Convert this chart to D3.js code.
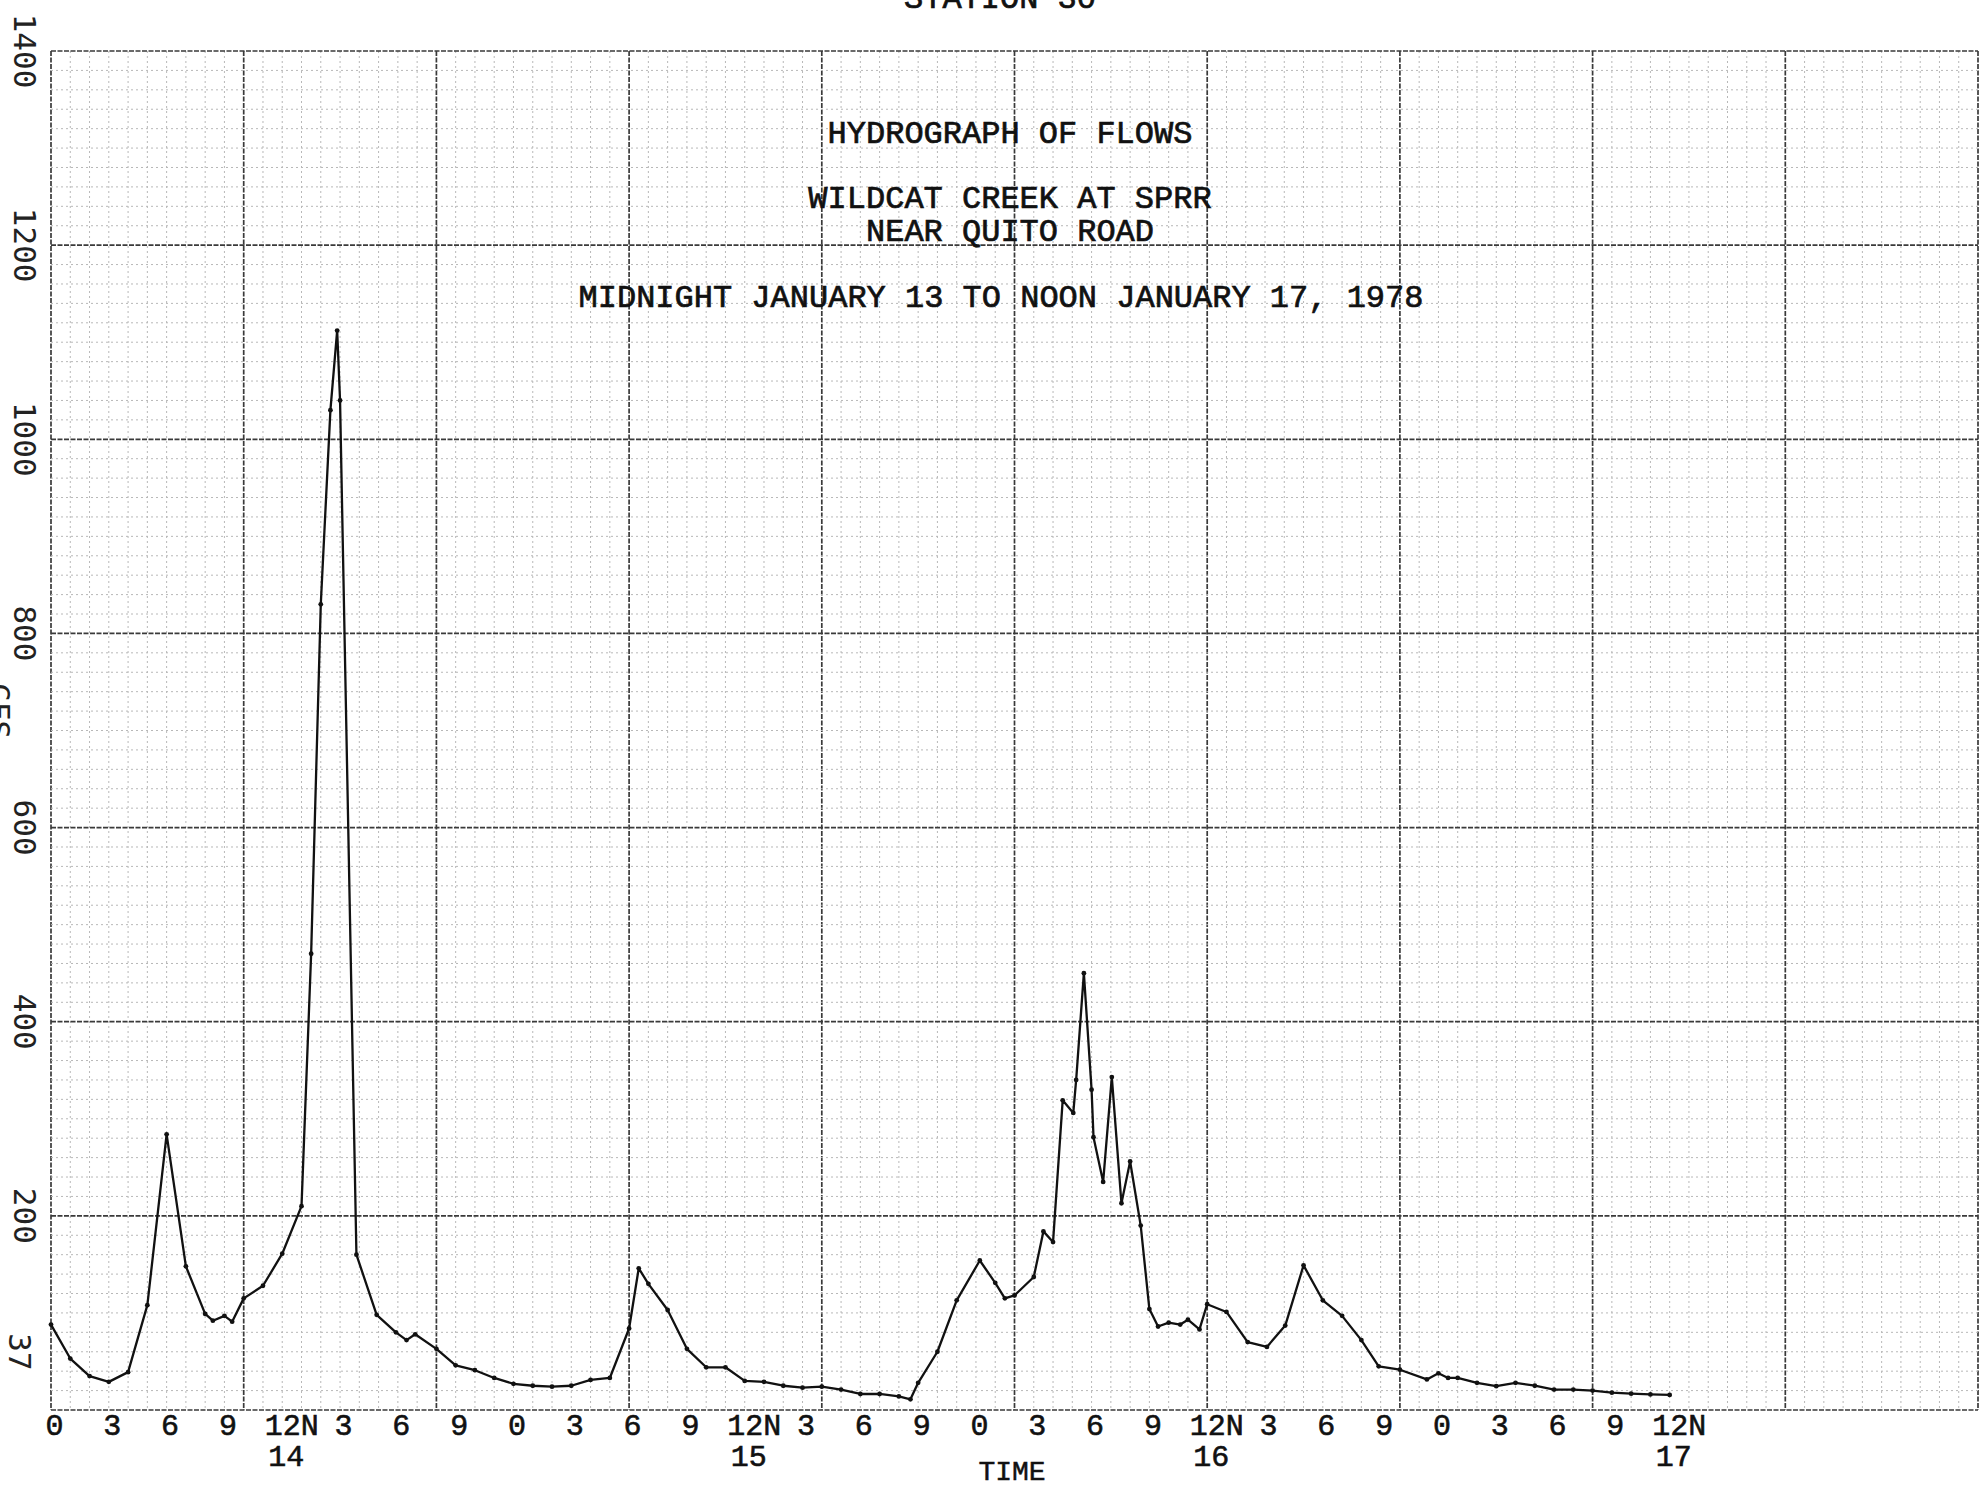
<!DOCTYPE html>
<html>
<head>
<meta charset="utf-8">
<script src="https://cdn.jsdelivr.net/npm/d3@7"></script>
<style>
  body { margin: 0; background: #fff; }
  svg { display: block; }
</style>
</head>
<body>
<div id="hydrograph"></div>
<script>

var hours = [0, 1, 2, 3, 4, 5, 6, 7, 8, 8.4, 9, 9.4, 10, 11, 12, 13, 13.5, 14, 14.5, 14.85,
  15, 15.85, 16.9, 17.9, 18.45, 18.9, 20, 21, 22, 23, 24, 25, 26, 27, 28, 29, 30, 30.5, 31, 32, 33,
  34, 35, 36, 37, 38, 39, 40, 41, 42, 43, 44, 44.6, 45, 46, 47, 48.2, 49, 49.5, 50, 51, 51.5, 52,
  52.5, 53.05, 53.2, 53.6, 54, 54.1, 54.6, 55.05, 55.55, 56, 56.55, 57, 57.45, 58, 58.6, 59, 59.6,
  60, 61, 62.1, 63.1, 64.05, 65, 66, 67, 68, 68.9, 70, 71.4, 72, 72.5, 73, 74, 75, 76, 77, 78, 79,
  80, 81, 82, 83, 84]
var flows = [88, 53, 35, 29, 39, 108, 284, 148, 99, 92, 97, 91, 115, 128, 161, 210, 470, 830, 1030, 1112,
  1040, 160, 98, 80, 72, 78, 63, 46, 41, 33, 27, 25, 24, 25, 31, 33, 84, 146, 130, 103, 63,
  44, 44, 30, 29, 25, 23, 24, 21, 16.5, 16.5, 14, 11, 28, 60, 113, 154, 131, 115, 118, 137, 184, 173,
  319, 306, 340, 450, 330, 281, 235, 343, 213, 256, 190, 104, 86, 90, 88, 93, 83,
  109, 101, 70, 65, 87, 149, 113, 97, 72, 45, 41.5, 31.5, 37.8, 33, 33, 28, 24.5, 28, 25, 21, 21,
  20, 17.8, 16.8, 16, 15.5]

var tickLabels = ["0", "3", "6", "9", "12N", "3", "6", "9",
  "0", "3", "6", "9", "12N", "3", "6", "9",
  "0", "3", "6", "9", "12N", "3", "6", "9",
  "0", "3", "6", "9", "12N"]
var dayLabels = ["14", "15", "16", "17"]
var dayHours = [12, 36, 60, 84]
var yTicks = [200, 400, 600, 800, 1000, 1200, 1400]
var titleLines = ["HYDROGRAPH OF FLOWS", "WILDCAT CREEK AT SPRR", "NEAR QUITO ROAD",
  "MIDNIGHT JANUARY 13 TO NOON JANUARY 17, 1978"]

var W = 1986, H = 1487
var margin = { top: 51, right: 8, bottom: 77, left: 51 }
var width = W - margin.left - margin.right
var height = H - margin.top - margin.bottom
var typeFont = "'Liberation Mono', 'Courier New', monospace"
var axisFont = "'DejaVu Sans Mono', monospace"

var x = d3.scaleLinear().domain([0, 100]).range([0, width])
var y = d3.scaleLinear().domain([0, 1400]).range([height, 0])

var root = d3.select("#hydrograph").append("svg")
  .attr("width", W)
  .attr("height", H)
  .style("background", "#fff")

var svg = root.append("g")
  .attr("transform", "translate(" + margin.left + "," + margin.top + ")")

// graph paper: one cell per hour / 20 cfs, heavy line every 10 cells
var grid = svg.append("g").attr("class", "grid")

grid.selectAll(".vline")
  .data(d3.range(0, 101))
  .enter().append("line")
  .attr("x1", d => x(d)).attr("x2", d => x(d))
  .attr("y1", 0).attr("y2", height)
  .attr("stroke", d => d % 10 === 0 ? "#3a3a3a" : "#b8b8b8")
  .attr("stroke-width", d => d % 10 === 0 ? 1.7 : 1)
  .attr("stroke-dasharray", d => d % 10 === 0 ? "5,1.5" : "2,3")

grid.selectAll(".hline")
  .data(d3.range(0, 1401, 20))
  .enter().append("line")
  .attr("x1", 0).attr("x2", width)
  .attr("y1", d => y(d)).attr("y2", d => y(d))
  .attr("stroke", d => d % 200 === 0 ? "#3a3a3a" : "#b8b8b8")
  .attr("stroke-width", d => d % 200 === 0 ? 1.7 : 1)
  .attr("stroke-dasharray", d => d % 200 === 0 ? "5,1.5" : "2,3")

// titles typed on the sheet
var titleY = [143, 208, 241, 307]
var titleX = [1010, 1010, 1010, 1001]
root.selectAll(".title")
  .data(titleLines)
  .enter().append("text")
  .attr("class", "title")
  .attr("x", (d, i) => titleX[i])
  .attr("y", (d, i) => titleY[i])
  .attr("text-anchor", "middle")
  .attr("font-family", typeFont)
  .attr("font-size", 32)
  .attr("fill", "#111")
  .attr("stroke", "#111")
  .attr("stroke-width", 0.7)
  .text(d => d)

root.append("text")
  .attr("x", 1000)
  .attr("y", 8)
  .attr("text-anchor", "middle")
  .attr("font-family", typeFont)
  .attr("font-size", 32)
  .attr("fill", "#111")
  .attr("stroke", "#111")
  .attr("stroke-width", 0.7)
  .text("STATION 30")

// x axis: every 3 hours
var xAxis = d3.axisBottom(x)
  .tickValues(tickLabels.map((d, i) => i * 3))
  .tickFormat((d, i) => tickLabels[i])
  .tickSize(0)

var gx = svg.append("g")
  .attr("transform", "translate(0," + height + ")")
  .call(xAxis)
gx.select(".domain").remove()
gx.selectAll("text")
  .attr("y", 25)
  .attr("dy", 0)
  .attr("dx", d => (d % 12 === 0 && d % 24 !== 0) ? "-0.6em" : 3)
  .attr("text-anchor", d => (d % 12 === 0 && d % 24 !== 0) ? "start" : "middle")
  .attr("font-family", typeFont)
  .attr("font-size", 30)
  .attr("fill", "#111")
  .attr("stroke", "#111")
  .attr("stroke-width", 0.6)

svg.selectAll(".day")
  .data(dayLabels)
  .enter().append("text")
  .attr("class", "day")
  .attr("x", (d, i) => x(dayHours[i]) + 4)
  .attr("y", height + 56)
  .attr("text-anchor", "middle")
  .attr("font-family", typeFont)
  .attr("font-size", 30)
  .attr("fill", "#111")
  .attr("stroke", "#111")
  .attr("stroke-width", 0.6)
  .text(d => d)

svg.append("text")
  .attr("x", 1012 - margin.left)
  .attr("y", height + 70)
  .attr("text-anchor", "middle")
  .attr("font-family", typeFont)
  .attr("font-size", 28)
  .attr("fill", "#111")
  .attr("stroke", "#111")
  .attr("stroke-width", 0.5)
  .text("TIME")

// y labels, turned sideways like the sheet
var yLab = root.append("g")
yLab.selectAll(".ylab")
  .data(yTicks)
  .enter().append("text")
  .attr("class", "ylab")
  .attr("transform", d => "translate(25," + (margin.top + y(d)) + ") rotate(90)")
  .attr("dy", "0.36em")
  .attr("text-anchor", "middle")
  .attr("font-family", axisFont)
  .attr("font-size", 31)
  .attr("fill", "#222")
  .text(d => d)

yLab.append("text")
  .attr("transform", "translate(20,1352) rotate(90)")
  .attr("dy", "0.36em")
  .attr("text-anchor", "middle")
  .attr("font-family", axisFont)
  .attr("font-size", 31)
  .attr("fill", "#222")
  .text("37")

yLab.append("text")
  .attr("transform", "translate(-1," + (margin.top + y(720)) + ") rotate(90)")
  .attr("dy", "0.36em")
  .attr("text-anchor", "middle")
  .attr("font-family", axisFont)
  .attr("font-size", 31)
  .attr("fill", "#222")
  .text("CFS")

// the flow trace
var pts = hours.map((h, i) => [h, flows[i]])

var line = d3.line()
  .x(d => x(d[0]))
  .y(d => y(d[1]))

svg.append("path")
  .datum(pts)
  .attr("d", line)
  .attr("fill", "none")
  .attr("stroke", "#111")
  .attr("stroke-width", 2.3)
  .attr("stroke-linejoin", "round")

svg.selectAll(".pt")
  .data(pts)
  .enter().append("circle")
  .attr("class", "pt")
  .attr("cx", d => x(d[0]))
  .attr("cy", d => y(d[1]))
  .attr("r", 2.4)
  .attr("fill", "#111")

</script>
</body>
</html>
